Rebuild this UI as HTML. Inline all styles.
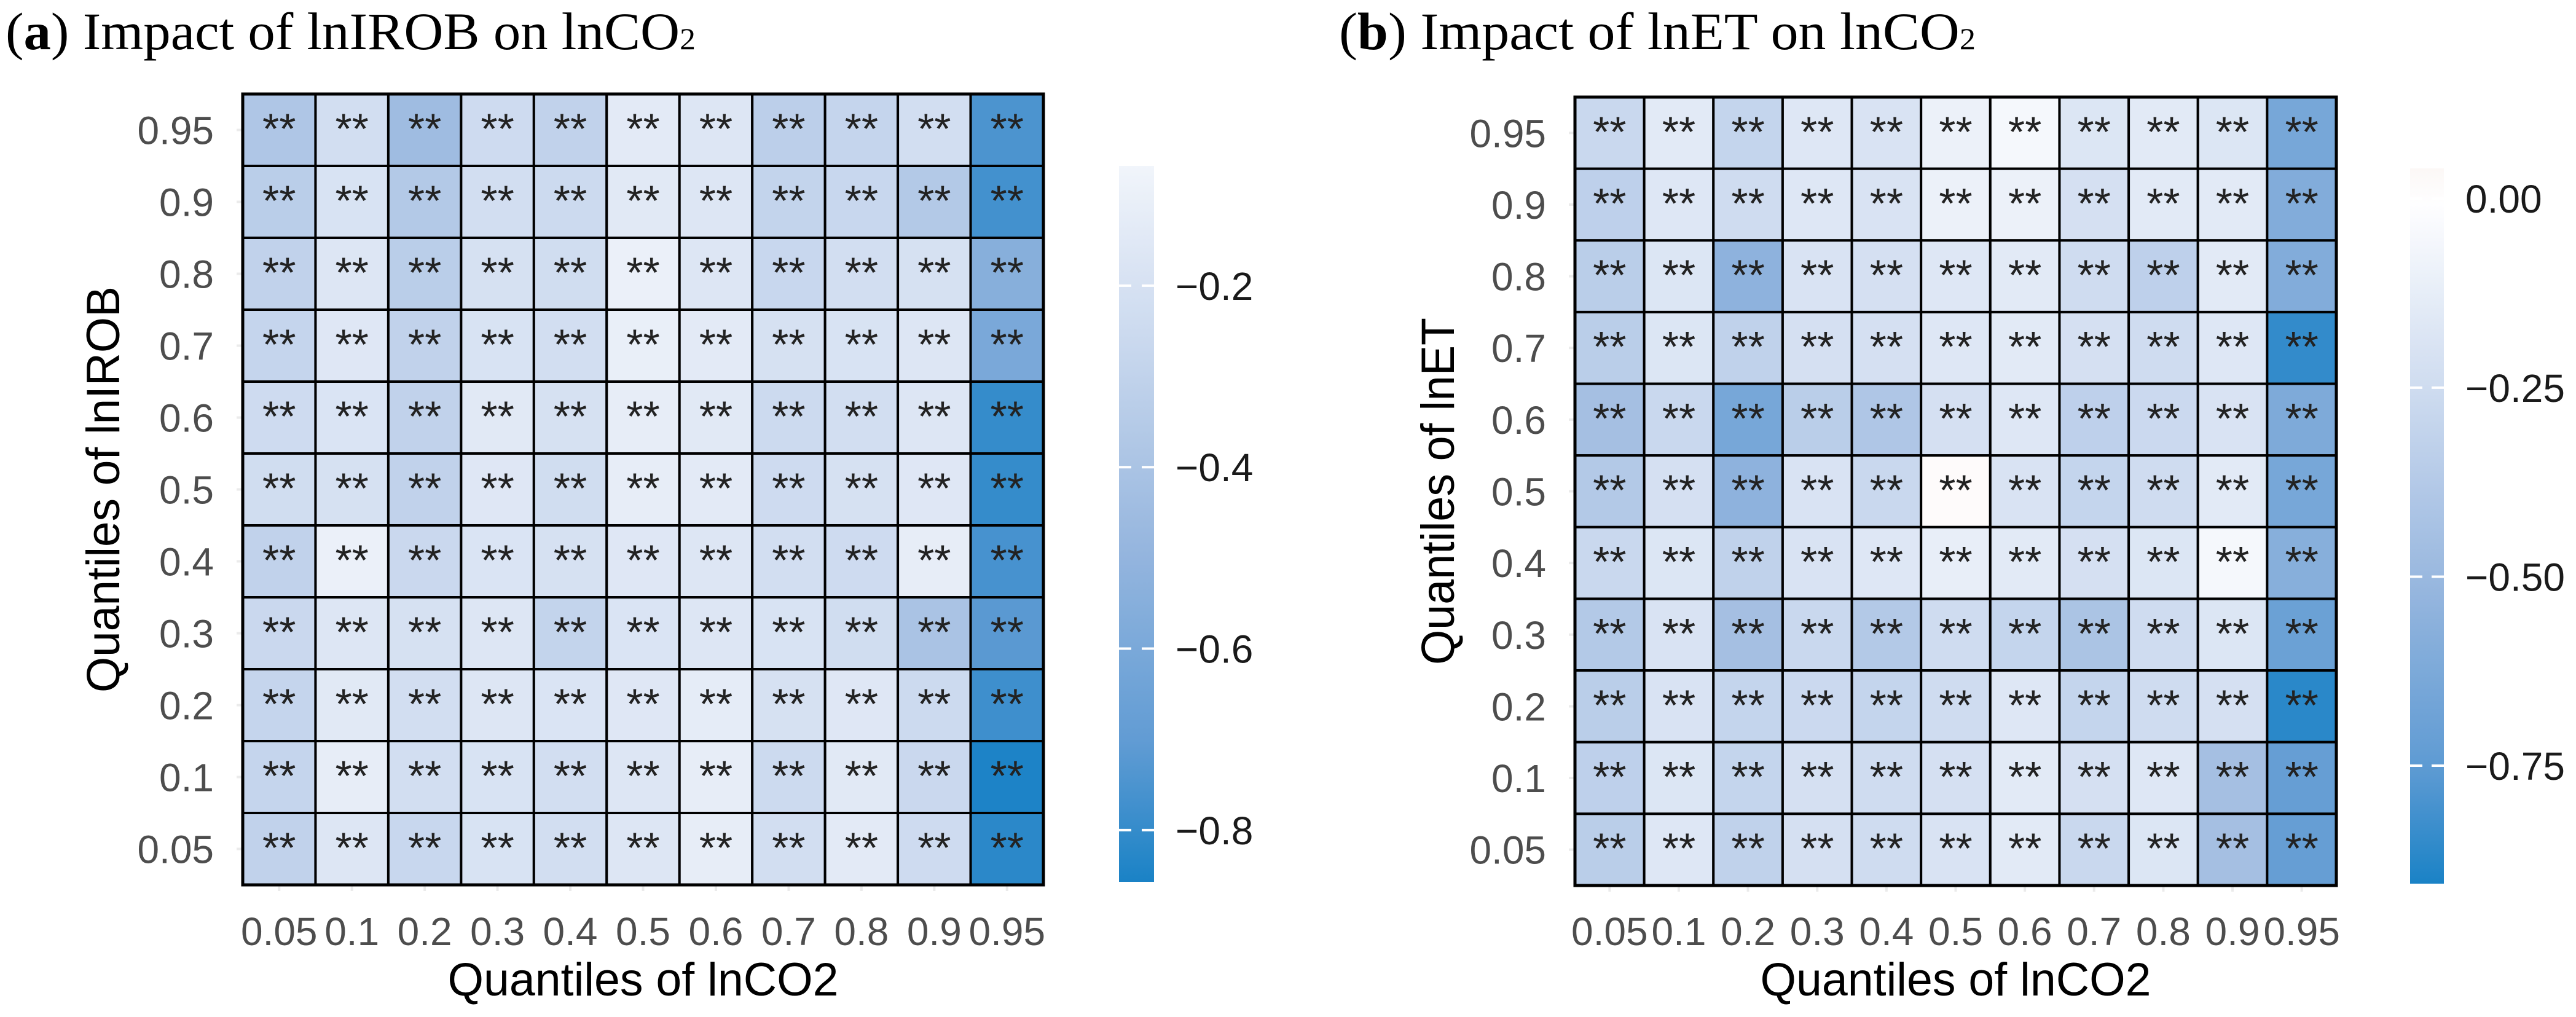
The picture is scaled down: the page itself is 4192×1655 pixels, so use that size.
<!DOCTYPE html>
<html><head><meta charset="utf-8">
<style>
html,body{margin:0;padding:0;background:#fff;}
svg{display:block;}
</style></head>
<body>
<svg id="fig" width="4192" height="1655" viewBox="0 0 4192 1655" xmlns="http://www.w3.org/2000/svg">
  <defs id="defs"></defs>
  <text x="9" y="80" font-family="'Liberation Serif',serif" font-size="86" fill="#000" textLength="1123" lengthAdjust="spacingAndGlyphs">(<tspan font-weight="bold">a</tspan>) Impact of lnIROB on lnCO<tspan font-size="50">2</tspan></text>
  <text x="2179" y="80" font-family="'Liberation Serif',serif" font-size="86" fill="#000" textLength="1036" lengthAdjust="spacingAndGlyphs">(<tspan font-weight="bold">b</tspan>) Impact of lnET on lnCO<tspan font-size="50">2</tspan></text>
  <g id="panelA"></g>
  <g id="panelB"></g>
</svg>
<script>
// Shared categories
const quantiles = ["0.05","0.1","0.2","0.3","0.4","0.5","0.6","0.7","0.8","0.9","0.95"];
// Rows listed from top (0.95) to bottom (0.05); columns 0.05..0.95
const rowLabelsTopDown = ["0.95","0.9","0.8","0.7","0.6","0.5","0.4","0.3","0.2","0.1","0.05"];

// Panel a values: lnIROB
const valuesA = [
  [-0.38,-0.22,-0.45,-0.24,-0.30,-0.14,-0.17,-0.32,-0.28,-0.22,-0.75],
  [-0.33,-0.19,-0.36,-0.22,-0.25,-0.15,-0.17,-0.29,-0.27,-0.36,-0.77],
  [-0.30,-0.17,-0.33,-0.20,-0.23,-0.10,-0.17,-0.27,-0.22,-0.20,-0.55],
  [-0.28,-0.16,-0.30,-0.19,-0.22,-0.11,-0.14,-0.20,-0.19,-0.17,-0.60],
  [-0.24,-0.18,-0.30,-0.15,-0.20,-0.12,-0.15,-0.25,-0.22,-0.17,-0.80],
  [-0.23,-0.20,-0.30,-0.16,-0.23,-0.12,-0.14,-0.24,-0.20,-0.16,-0.80],
  [-0.30,-0.10,-0.26,-0.18,-0.20,-0.16,-0.17,-0.22,-0.24,-0.12,-0.76],
  [-0.26,-0.17,-0.20,-0.17,-0.29,-0.18,-0.17,-0.19,-0.23,-0.40,-0.72],
  [-0.28,-0.15,-0.22,-0.17,-0.18,-0.16,-0.13,-0.20,-0.16,-0.25,-0.78],
  [-0.28,-0.12,-0.22,-0.19,-0.22,-0.17,-0.12,-0.25,-0.15,-0.26,-0.85],
  [-0.30,-0.17,-0.27,-0.19,-0.22,-0.17,-0.12,-0.22,-0.14,-0.24,-0.82]
];
// Panel b values: lnET
const valuesB = [
  [-0.28,-0.15,-0.30,-0.17,-0.20,-0.10,-0.05,-0.18,-0.15,-0.18,-0.65],
  [-0.33,-0.17,-0.25,-0.17,-0.20,-0.10,-0.10,-0.22,-0.15,-0.15,-0.60],
  [-0.35,-0.18,-0.55,-0.20,-0.22,-0.17,-0.15,-0.25,-0.33,-0.15,-0.60],
  [-0.35,-0.18,-0.32,-0.22,-0.22,-0.17,-0.15,-0.22,-0.25,-0.17,-0.85],
  [-0.45,-0.28,-0.65,-0.35,-0.40,-0.22,-0.17,-0.33,-0.27,-0.20,-0.62],
  [-0.38,-0.22,-0.55,-0.20,-0.28, 0.02,-0.20,-0.30,-0.25,-0.15,-0.65],
  [-0.28,-0.18,-0.32,-0.20,-0.17,-0.12,-0.15,-0.22,-0.18,-0.05,-0.58],
  [-0.38,-0.20,-0.45,-0.28,-0.38,-0.25,-0.30,-0.42,-0.25,-0.18,-0.70],
  [-0.35,-0.20,-0.30,-0.27,-0.30,-0.25,-0.17,-0.30,-0.25,-0.22,-0.87],
  [-0.33,-0.18,-0.30,-0.22,-0.25,-0.22,-0.15,-0.22,-0.17,-0.45,-0.72],
  [-0.35,-0.17,-0.32,-0.22,-0.25,-0.20,-0.15,-0.28,-0.18,-0.45,-0.72]
];
const limitsA = [-0.857, -0.068];
const limitsB = [-0.906, 0.04];
const ticksA = [-0.2, -0.4, -0.6, -0.8];
const tickLabelsA = ["\u22120.2","\u22120.4","\u22120.6","\u22120.8"];
const ticksB = [0, -0.25, -0.5, -0.75];
const tickLabelsB = ["0.00","\u22120.25","\u22120.50","\u22120.75"];
const cellText = "**";

const NS = "http://www.w3.org/2000/svg";
const blueStops = [[0,[255,255,255]],[0.276,[207,220,240]],[0.552,[154,184,223]],[0.828,[95,155,211]],[1,[26,130,198]]];
function lerp(a,b,t){return Math.round(a+(b-a)*t);}
function colorFor(v, lowEnd){
  if (v >= 0) { const t = Math.min(1, v/0.3); return `rgb(${lerp(255,235,t)},${lerp(255,200,t)},${lerp(255,190,t)})`; }
  let t = Math.min(1, v/lowEnd);
  for (let i=1;i<blueStops.length;i++){
    if (t <= blueStops[i][0]) {
      const [t0,c0]=blueStops[i-1],[t1,c1]=blueStops[i];
      const u=(t-t0)/(t1-t0);
      return `rgb(${lerp(c0[0],c1[0],u)},${lerp(c0[1],c1[1],u)},${lerp(c0[2],c1[2],u)})`;
    }
  }
  return "rgb(26,130,198)";
}
function mk(tag, attrs, parent){
  const e=document.createElementNS(NS,tag);
  for (const k in attrs) e.setAttribute(k, attrs[k]);
  parent.appendChild(e); return e;
}

function drawPanel(g, cfg){
  const {x0,x1,y0,y1,values,limits,ticks,tickLabels,cb,ytitle,ytitleX,ytitleLen,id} = cfg;
  const n = quantiles.length;
  const cw = (x1-x0)/n, ch = (y1-y0)/n;
  const xScale = i => x0 + i*cw;
  const yScale = r => y0 + r*ch;
  for (let i=0;i<n;i++){
    const t1 = mk("line",{x1:xScale(i)+cw/2,x2:xScale(i)+cw/2,y1:y1,y2:y1+10,stroke:"#ebebeb","stroke-width":4},g);
    
    
    const t2 = mk("line",{x1:x0-10,x2:x0,y1:yScale(i)+ch/2,y2:yScale(i)+ch/2,stroke:"#ebebeb","stroke-width":4},g);
    
    
  }
  for (let r=0;r<n;r++){
    for (let c=0;c<n;c++){
      const v = values[r][c];
      const rect = mk("rect",{x:xScale(c),y:yScale(r),width:cw,height:ch,fill:colorFor(v,limits[0]),stroke:"#000","stroke-width":4},g);
      
      
      const tx = mk("text",{x:xScale(c)+cw/2,y:yScale(r)+ch/2+22,"text-anchor":"middle","font-family":"'Liberation Sans',sans-serif","font-size":70,fill:"#222"},g);
      
      
      tx.textContent = cellText;
    }
  }
  mk("rect",{x:x0,y:y0,width:x1-x0,height:y1-y0,fill:"none",stroke:"#000","stroke-width":5},g);
  for (let i=0;i<n;i++){
    const xl = mk("text",{x:xScale(i)+cw/2,y:1538,"text-anchor":"middle","font-family":"'Liberation Sans',sans-serif","font-size":64,fill:"#4d4d4d"},g);
    
    
    xl.textContent = quantiles[i];
    const yl = mk("text",{x:x0-47,y:yScale(i)+ch/2+23,"text-anchor":"end","font-family":"'Liberation Sans',sans-serif","font-size":64,fill:"#4d4d4d"},g);
    
    
    yl.textContent = rowLabelsTopDown[i];
  }
  const xt = mk("text",{x:(x0+x1)/2,y:1620,"text-anchor":"middle","font-family":"'Liberation Sans',sans-serif","font-size":76,fill:"#000",textLength:636,lengthAdjust:"spacingAndGlyphs"},g);
  
  
  xt.textContent = "Quantiles of lnCO2";
  const cy = (y0+y1)/2;
  const yt = mk("text",{x:ytitleX,y:cy,transform:`rotate(-90 ${ytitleX} ${cy})`,"text-anchor":"middle","font-family":"'Liberation Sans',sans-serif","font-size":76,fill:"#000",textLength:ytitleLen,lengthAdjust:"spacingAndGlyphs"},g);
  
  
  yt.textContent = ytitle;
  const defs = document.getElementById('defs');
  const grad = mk("linearGradient",{id:"grad"+id,x1:0,y1:0,x2:0,y2:1},defs);
  for (let k=0;k<=20;k++){
    const v = limits[1] + (limits[0]-limits[1])*k/20;
    mk("stop",{offset:(k/20),"stop-color":colorFor(v,limits[0])},grad);
  }
  const vScale = v => cb.y0 + (limits[1]-v)/(limits[1]-limits[0])*(cb.y1-cb.y0);
  const bar = mk("rect",{x:cb.x0,y:cb.y0,width:cb.x1-cb.x0,height:cb.y1-cb.y0,fill:`url(#grad${id})`},g);
  
  
  ticks.forEach((t,i)=>{
    const ty = vScale(t);
    const d1 = mk("line",{x1:cb.x0,x2:cb.x0+20,y1:ty,y2:ty,stroke:"#fff","stroke-width":4},g);
    
    
    const d2 = mk("line",{x1:cb.x1-20,x2:cb.x1,y1:ty,y2:ty,stroke:"#fff","stroke-width":4},g);
    
    
    const lb = mk("text",{x:cb.lx,y:ty+23,"font-family":"'Liberation Sans',sans-serif","font-size":64,fill:"#1a1a1a"},g);
    
    
    lb.textContent = tickLabels[i];
  });
}

drawPanel(document.getElementById('panelA'),{id:"A",x0:395,x1:1698,y0:153,y1:1440,values:valuesA,limits:limitsA,ticks:ticksA,tickLabels:tickLabelsA,
  cb:{x0:1821,x1:1878,y0:270,y1:1435,lx:1913},ytitle:"Quantiles of lnIROB",ytitleX:194,ytitleLen:661});
drawPanel(document.getElementById('panelB'),{id:"B",x0:2563,x1:3802,y0:158,y1:1441,values:valuesB,limits:limitsB,ticks:ticksB,tickLabels:tickLabelsB,
  cb:{x0:3922,x1:3977,y0:274,y1:1438,lx:4012},ytitle:"Quantiles of lnET",ytitleX:2366,ytitleLen:565});
</script>
</body></html>
